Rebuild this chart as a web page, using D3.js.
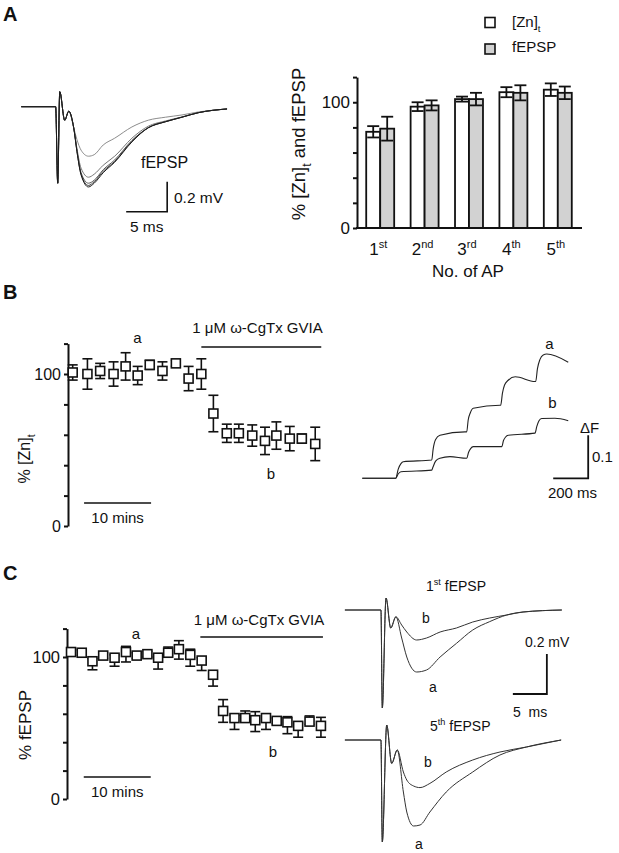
<!DOCTYPE html>
<html><head><meta charset="utf-8">
<script src="https://cdn.jsdelivr.net/npm/d3@7"></script>
<style>
body{margin:0;background:#fff}
svg{display:block;font-family:"Liberation Sans",Arial,sans-serif;fill:#111}
</style></head><body>
<svg id="fig" width="619" height="853"></svg>
<script>
// ---------- DATA ----------
// Panel A left: fEPSP traces for 1st..5th AP (time ms, mV)
const tA = [-4.4, -0.2, 0.05, 0.3, 0.9, 1.4, 2.0, 2.4, 2.9, 3.8, 4.5, 5.6, 7.0, 9.1, 11.1, 13.2, 15.2, 17.2, 20.7];
const traceA1 = [0, 0, -0.51, 0.10, -0.09, -0.03, -0.14, -0.22, -0.29, -0.33, -0.32, -0.255, -0.21, -0.135, -0.09, -0.07, -0.055, -0.035, -0.015];
const traceA2 = [0, 0, -0.51, 0.10, -0.09, -0.03, -0.14, -0.28, -0.41, -0.47, -0.45, -0.39, -0.33, -0.21, -0.13, -0.095, -0.068, -0.04, -0.015];
const traceA3 = [0, 0, -0.51, 0.10, -0.09, -0.03, -0.14, -0.29, -0.44, -0.51, -0.49, -0.42, -0.355, -0.225, -0.14, -0.10, -0.07, -0.04, -0.015];
const traceA4 = [0, 0, -0.51, 0.10, -0.09, -0.03, -0.14, -0.30, -0.45, -0.525, -0.50, -0.43, -0.365, -0.23, -0.14, -0.10, -0.07, -0.04, -0.015];
const traceA5 = [0, 0, -0.51, 0.10, -0.09, -0.03, -0.14, -0.30, -0.455, -0.535, -0.51, -0.44, -0.37, -0.235, -0.14, -0.10, -0.07, -0.04, -0.015];

// Panel A right: bar chart
const apCats = ["1st", "2nd", "3rd", "4th", "5th"];
const znMean = [76.5, 96.5, 102.5, 108, 110];
const znErr = [4.5, 3.5, 2, 4, 5];
const fepspMean = [79, 97.5, 102.5, 107.5, 107.5];
const fepspErr = [9.5, 4, 5, 6, 5];
const yTicks = [0, 20, 40, 60, 80, 100, 120];

// Panel B left: % [Zn]t time course (min)
const timeB = [0.7, 2.9, 4.8, 6.8, 8.6, 10.4, 12.2, 14.1, 16.1, 18.0, 19.9, 21.7, 23.7, 25.5, 27.5, 29.4, 31.1, 33.1, 34.9, 36.9];
const znB = [101, 100, 102, 100, 105, 99, 106, 102, 107, 97, 100, 74, 61, 61, 59.5, 56, 59.5, 57.5, 57.5, 54];
const znBErr = [5, 10, 5, 8, 9, 6, 3, 6, 2, 8, 10, 12, 6, 6, 7, 9, 9, 8, 3, 11];

// Panel B right: ΔF traces (ms, ΔF)
const tFa = [-191, 0, 15, 30, 43, 206, 214, 228, 253, 396, 406, 414, 426, 443, 596, 600, 610, 622, 643, 683, 796, 800, 810, 824, 843, 863, 986];
const fA = [0, 0, 0.022, 0.034, 0.0386, 0.0426, 0.068, 0.090, 0.100, 0.108, 0.108, 0.135, 0.152, 0.163, 0.170, 0.170, 0.198, 0.217, 0.228, 0.236, 0.225, 0.225, 0.255, 0.276, 0.287, 0.289, 0.270];
const tFb = [-191, 0, 14, 30, 206, 212, 228, 253, 310, 406, 416, 428, 443, 596, 606, 616, 628, 643, 796, 806, 818, 834, 910, 986];
const fB = [0, 0, 0.010, 0.0153, 0.019, 0.025, 0.040, 0.0465, 0.0504, 0.0465, 0.060, 0.069, 0.0736, 0.0736, 0.0736, 0.088, 0.096, 0.100, 0.105, 0.120, 0.133, 0.139, 0.1395, 0.134];

// Panel C left: % fEPSP time course (min)
const timeC = [0.6, 2.2, 3.8, 5.4, 7.1, 8.8, 10.4, 12.0, 13.6, 15.1, 16.7, 18.4, 20.1, 21.8, 23.3, 25.0, 26.6, 28.1, 29.7, 31.3, 32.9, 34.5, 36.2, 37.9];
const fepspC = [103.5, 103, 97, 101, 99.5, 103.5, 101, 102, 99.5, 103, 105.5, 101.5, 97.5, 87.5, 62, 57, 57, 55.5, 57, 55, 54, 51.5, 54.5, 51.5];
const fepspCErrHi = [2, 2, 2, 2, 2, 4, 2, 2, 2, 4, 6, 4, 2, 2, 8, 2, 5, 6, 2, 2, 4, 2, 4, 6];
const fepspCErrLo = [2, 2, 6, 2, 6, 7, 2, 2, 8, 2, 7, 8, 7, 8, 8, 8, 2, 8, 8, 2, 8, 8, 2, 8];

// Panel C right: 1st and 5th fEPSP, a (control) and b (CgTx)
const tC1 = [-5.5, -0.2, 0, 0.55, 1.24, 2.0, 2.85, 3.6, 5.05, 6.5, 8.5, 10.9, 13.3, 15.8, 18.3, 20.7, 26.4];
const c1a = [0, 0, -0.49, 0.06, -0.09, -0.034, -0.14, -0.235, -0.31, -0.30, -0.235, -0.167, -0.10, -0.058, -0.025, -0.01, 0];
const c1b = [0, 0, -0.49, 0.06, -0.09, -0.034, -0.075, -0.11, -0.15, -0.14, -0.11, -0.09, -0.06, -0.04, -0.025, -0.01, 0];
const tC5 = [-5.5, -0.2, 0, 0.65, 1.38, 2.2, 3.1, 3.6, 4.6, 5.55, 7.0, 9.4, 13.3, 17.3, 21.2, 26.3];
const c5a = [0, 0, -0.51, 0.075, -0.117, -0.05, -0.26, -0.36, -0.43, -0.425, -0.36, -0.26, -0.16, -0.075, -0.035, 0];
const c5b = [0, 0, -0.51, 0.075, -0.117, -0.05, -0.16, -0.20, -0.23, -0.238, -0.217, -0.16, -0.10, -0.06, -0.035, 0];

// ---------- DRAWING ----------
const svg = d3.select("#fig");
svg.append("rect").attr("width", 619).attr("height", 853).attr("fill", "#fff");

function txt(x, y, s, size, anchor, weight) {
  return svg.append("text").attr("x", x).attr("y", y).text(s)
    .style("font-size", size + "px").attr("text-anchor", anchor || "start")
    .style("font-weight", weight || "normal");
}
function supText(parent, x, y, base, sup, rest, size, anchor) {
  const t = parent.append("text").attr("x", x).attr("y", y)
    .style("font-size", size + "px").attr("text-anchor", anchor || "start");
  t.append("tspan").text(base);
  t.append("tspan").text(sup).attr("dy", -size * 0.4).style("font-size", (size * 0.65) + "px");
  if (rest) t.append("tspan").text(rest).attr("dy", size * 0.4);
  return t;
}
function subZn(parent, size) {
  parent.append("tspan").text("[Zn]");
  parent.append("tspan").text("t").attr("dy", size * 0.3).style("font-size", (size * 0.65) + "px");
}
function drawLine(xs, ys, t, v, color, width) {
  const line = d3.line().x((d, i) => xs(t[i])).y(d => ys(d)).curve(d3.curveMonotoneX);
  svg.append("path").datum(v).attr("d", line).attr("fill", "none")
    .attr("stroke", color).attr("stroke-width", width || 1).attr("stroke-linejoin", "round");
}
function leftAxis(scale, x) {
  const g = svg.append("g").attr("transform", `translate(${x},0)`)
    .call(d3.axisLeft(scale).tickValues(yTicks).tickSize(4).tickSizeOuter(0).tickPadding(3)
      .tickFormat(d => (d === 0 || d === 100) ? d : ""));
  g.selectAll("path,line").attr("stroke", "#111").attr("stroke-width", 2);
  g.selectAll("text").attr("fill", "#111").style("font-family", "Liberation Sans, Arial, sans-serif");
  return g;
}

// panel letters
txt(3, 21, "A", 20, "start", "bold");
txt(3, 299, "B", 20, "start", "bold");
txt(3, 580, "C", 20, "start", "bold");

// ---- Panel A traces ----
const xA = d3.scaleLinear().domain([0, 10]).range([57.3, 139.3]);
const yA = d3.scaleLinear().domain([0, -0.2]).range([106.7, 136.7]);
[traceA1, traceA2, traceA3, traceA4, traceA5].forEach((tr, i) => {
  drawLine(xA, yA, tA, tr, ["#8c8c8c", "#777", "#555", "#3a3a3a", "#1a1a1a"][i], 1);
});
svg.append("path").attr("d", `M${xA(8.4)},${yA(-0.70)}H${xA(13.4)}V${yA(-0.50)}`)
  .attr("fill", "none").attr("stroke", "#111").attr("stroke-width", 1.6);
txt(141, 168, "fEPSP", 16);
txt(174, 203, "0.2 mV", 15.5);
txt(xA(10.9), 232, "5 ms", 15.5, "middle");

// ---- Panel A bar chart ----
const xBand = d3.scaleBand().domain(apCats).range([358, 580]).paddingInner(0.37).paddingOuter(0.185);
const xSub = d3.scaleBand().domain(["zn", "fepsp"]).range([0, xBand.bandwidth()]);
const yBar = d3.scaleLinear().domain([0, 120]).range([228, 77.1]);
const barData = apCats.flatMap((c, i) => [
  { c, k: "zn", v: znMean[i], e: znErr[i] },
  { c, k: "fepsp", v: fepspMean[i], e: fepspErr[i] }]);
svg.append("g").selectAll("rect").data(barData).join("rect")
  .attr("x", d => xBand(d.c) + xSub(d.k)).attr("width", xSub.bandwidth())
  .attr("y", d => yBar(d.v)).attr("height", d => yBar(0) - yBar(d.v))
  .attr("fill", d => d.k === "zn" ? "#fff" : "#d2d2d2").attr("stroke", "#111").attr("stroke-width", 1.8);
const eb = svg.append("g").attr("stroke", "#111").attr("stroke-width", 1.8);
barData.forEach(d => {
  const cx = xBand(d.c) + xSub(d.k) + xSub.bandwidth() / 2;
  const hw = xSub.bandwidth() / 2 - 1;
  eb.append("line").attr("x1", cx).attr("x2", cx).attr("y1", yBar(d.v - d.e)).attr("y2", yBar(d.v + d.e));
  eb.append("line").attr("x1", cx - hw).attr("x2", cx + hw).attr("y1", yBar(d.v + d.e)).attr("y2", yBar(d.v + d.e));
  eb.append("line").attr("x1", cx - hw).attr("x2", cx + hw).attr("y1", yBar(d.v - d.e)).attr("y2", yBar(d.v - d.e));
});
const axA = leftAxis(yBar, 357);
axA.selectAll("text").style("font-size", "17px");
svg.append("line").attr("x1", 356).attr("x2", 582).attr("y1", yBar(0)).attr("y2", yBar(0))
  .attr("stroke", "#111").attr("stroke-width", 2);
apCats.forEach(c => {
  supText(svg, xBand(c) + xBand.bandwidth() / 2 - 2, 255, c.slice(0, 1), c.slice(1), null, 17, "middle");
});
txt(468, 277, "No. of AP", 17, "middle");
const yl = svg.append("text").attr("transform", "translate(305,144) rotate(-90)")
  .attr("text-anchor", "middle").style("font-size", "18.5px");
yl.append("tspan").text("% ");
subZn(yl, 18.5);
yl.append("tspan").text(" and fEPSP").attr("dy", -18.5 * 0.3);
// legend
svg.append("rect").attr("x", 485).attr("y", 17.5).attr("width", 10).attr("height", 10)
  .attr("fill", "#fff").attr("stroke", "#111").attr("stroke-width", 1.6);
svg.append("rect").attr("x", 485).attr("y", 44).attr("width", 10).attr("height", 10)
  .attr("fill", "#d2d2d2").attr("stroke", "#111").attr("stroke-width", 1.6);
const lg1 = svg.append("text").attr("x", 512).attr("y", 27).style("font-size", "15px");
subZn(lg1, 15);
txt(512, 52, "fEPSP", 15);

// ---- Panel B left ----
const xB = d3.scaleLinear().domain([0, 40]).range([68, 336]);
const yB = d3.scaleLinear().domain([0, 120]).range([526, 343.6]);
const axB = leftAxis(yB, 68);
axB.selectAll("text").style("font-size", "16px");
function timeCourse(xs, ys, times, vals, hi, lo) {
  const g = svg.append("g").attr("stroke", "#111").attr("stroke-width", 1.6);
  times.forEach((t, i) => {
    const cx = xs(t), v = vals[i];
    const yt = ys(v + hi[i]), yb = ys(v - lo[i]);
    g.append("line").attr("x1", cx).attr("x2", cx).attr("y1", yt).attr("y2", yb);
    g.append("line").attr("x1", cx - 5).attr("x2", cx + 5).attr("y1", yt).attr("y2", yt);
    g.append("line").attr("x1", cx - 5).attr("x2", cx + 5).attr("y1", yb).attr("y2", yb);
  });
  g.selectAll("rect.sq").data(times).join("rect").attr("class", "sq")
    .attr("x", t => xs(t) - 4.5).attr("y", (t, i) => ys(vals[i]) - 4.5)
    .attr("width", 9).attr("height", 9).attr("fill", "#fff");
}
timeCourse(xB, yB, timeB, znB, znBErr, znBErr);
svg.append("line").attr("x1", xB(2.4)).attr("x2", xB(12.4)).attr("y1", 503).attr("y2", 503)
  .attr("stroke", "#111").attr("stroke-width", 1.6);
txt(xB(7.4), 523, "10 mins", 15, "middle");
svg.append("line").attr("x1", xB(19.9)).attr("x2", xB(37.8)).attr("y1", 347).attr("y2", 347)
  .attr("stroke", "#111").attr("stroke-width", 1.6);
txt(257.5, 333, "1 μM ω-CgTx GVIA", 15, "middle");
txt(137.5, 343, "a", 15, "middle");
txt(271, 479, "b", 15, "middle");
const ylB = svg.append("text").attr("transform", "translate(30,459) rotate(-90)")
  .attr("text-anchor", "middle").style("font-size", "16px");
ylB.append("tspan").text("% ");
subZn(ylB, 16);

// ---- Panel B right ----
const xF = d3.scaleLinear().domain([0, 200]).range([395.7, 430.7]);
const yF = d3.scaleLinear().domain([0, 0.1]).range([478.3, 435.3]);
drawLine(xF, yF, tFa, fA, "#222", 1.1);
drawLine(xF, yF, tFb, fB, "#222", 1.1);
svg.append("path").attr("d", `M${xF(900)},${yF(0)}H${xF(1100)}V${yF(0.1)}`)
  .attr("fill", "none").attr("stroke", "#111").attr("stroke-width", 1.8);
txt(549.5, 349, "a", 15, "middle");
txt(552.5, 408, "b", 15, "middle");
txt(580, 433, "ΔF", 15);
txt(592, 462, "0.1", 15);
txt(572.5, 498, "200 ms", 15, "middle");

// ---- Panel C left ----
const xC = d3.scaleLinear().domain([0, 40]).range([67, 335]);
const yC = d3.scaleLinear().domain([0, 120]).range([799, 628.6]);
const axC = leftAxis(yC, 67);
axC.selectAll("text").style("font-size", "16.5px");
timeCourse(xC, yC, timeC, fepspC, fepspCErrHi, fepspCErrLo);
svg.append("line").attr("x1", xC(2.5)).attr("x2", xC(12.5)).attr("y1", 777).attr("y2", 777)
  .attr("stroke", "#111").attr("stroke-width", 1.6);
txt(xC(7.5), 797, "10 mins", 15, "middle");
svg.append("line").attr("x1", xC(19.9)).attr("x2", xC(38.2)).attr("y1", 637).attr("y2", 637)
  .attr("stroke", "#111").attr("stroke-width", 1.6);
txt(259, 625, "1 μM ω-CgTx GVIA", 15, "middle");
txt(136, 639, "a", 15, "middle");
txt(273, 757, "b", 15, "middle");
txt(0, 0, "% fEPSP", 17, "middle").attr("x", null).attr("y", null)
  .attr("transform", "translate(31,725) rotate(-90)");

// ---- Panel C right ----
const xE = d3.scaleLinear().domain([0, 5]).range([382.3, 416.3]);
const yE1 = d3.scaleLinear().domain([0, -0.2]).range([610, 650]);
const yE5 = d3.scaleLinear().domain([0, -0.2]).range([740, 780]);
drawLine(xE, yE1, tC1, c1a, "#333", 1);
drawLine(xE, yE1, tC1, c1b, "#333", 1);
drawLine(xE, yE5, tC5, c5a, "#333", 1);
drawLine(xE, yE5, tC5, c5b, "#333", 1);
svg.append("path").attr("d", `M${xE(19.2)},${yE1(-0.42)}H${xE(24.2)}V${yE1(-0.22)}`)
  .attr("fill", "none").attr("stroke", "#111").attr("stroke-width", 1.8);
supText(svg, 426, 591, "1", "st", " fEPSP", 14);
supText(svg, 430, 731, "5", "th", " fEPSP", 14);
txt(422, 623, "b", 14);
txt(429, 692, "a", 14);
txt(424, 767, "b", 14);
txt(415, 849, "a", 14);
txt(525, 647, "0.2 mV", 14);
txt(513, 717, "5  ms", 14).style("white-space", "pre");
</script>
</body></html>
